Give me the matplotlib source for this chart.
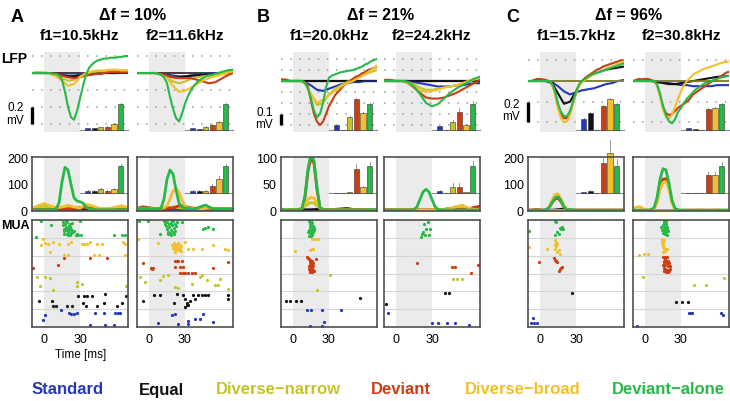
import numpy as np
import matplotlib
matplotlib.use('Agg')
import matplotlib.pyplot as plt

plt.rcParams['font.family'] = ['Liberation Sans', 'DejaVu Sans']

# ---------------- data ----------------
T5 = np.arange(-10, 70.1, 5)
T25 = np.arange(-10, 70.1, 2.5)

conditions = ['Standard', 'Equal', 'Diverse\u2212narrow', 'Deviant', 'Diverse\u2212broad', 'Deviant\u2212alone']
colors = ['#2438b8', '#111111', '#c4c42a', '#cc3d12', '#f2c02c', '#28b848']

titles = ['\u0394f = 10%', '\u0394f = 21%', '\u0394f = 96%']
freq_labels = ['f1=10.5kHz', 'f2=11.6kHz', 'f1=20.0kHz', 'f2=24.2kHz', 'f1=15.7kHz', 'f2=30.8kHz']
panel_letters = ['A', 'B', 'C']

# LFP traces (mV), order: std, eq, dn, dev, db, da
lfp_A1 = [
    [0, 0, 0, 0, -0.01, -0.02, -0.03, -0.03, -0.02, -0.02, -0.01, -0.01, 0, 0, 0, 0, 0],
    [0, 0, 0, 0, -0.01, -0.03, -0.04, -0.04, -0.03, -0.02, -0.01, -0.01, 0, 0, 0, 0.01, 0.01],
    [0, 0.01, 0, -0.01, -0.03, -0.06, -0.09, -0.08, -0.04, -0.01, 0.01, 0.02, 0.02, 0.02, 0.03, 0.03, 0.03],
    [0, 0, 0, 0, -0.01, -0.03, -0.05, -0.06, -0.05, -0.03, -0.02, -0.01, 0, 0.01, 0.01, 0.01, 0.01],
    [0, 0.01, 0.01, -0.01, -0.04, -0.09, -0.15, -0.13, -0.05, 0.0, 0.02, 0.03, 0.03, 0.04, 0.04, 0.03, 0.03],
    [0, 0, 0, 0, 0, 0, 0, -0.01, -0.01, -0.03, -0.08, -0.22, -0.40, -0.52, -0.55, -0.45, -0.30, -0.15, -0.02,
     0.06, 0.10, 0.13, 0.15, 0.16, 0.17, 0.17, 0.18, 0.18, 0.18, 0.19, 0.19, 0.2, 0.2],
]
lfp_A2 = [
    [0, 0, 0, 0, -0.01, -0.02, -0.03, -0.04, -0.04, -0.03, -0.02, -0.01, -0.01, 0, 0, 0, 0.01],
    [0, 0, 0, 0, -0.01, -0.03, -0.05, -0.05, -0.04, -0.03, -0.03, -0.02, -0.02, -0.01, -0.01, 0, 0.01],
    [0, 0, 0, 0, -0.02, -0.05, -0.10, -0.12, -0.10, -0.07, -0.05, -0.04, -0.03, -0.02, 0, 0.01, 0.02],
    [0, 0, 0, 0, -0.01, -0.03, -0.05, -0.06, -0.06, -0.06, -0.08, -0.10, -0.12, -0.11, -0.07, -0.03, 0],
    [0, 0, 0, 0, -0.02, -0.06, -0.15, -0.22, -0.21, -0.17, -0.13, -0.09, -0.06, -0.04, -0.02, 0, 0.02],
    [0, 0, 0, 0, 0, 0, 0, -0.01, -0.02, -0.05, -0.12, -0.28, -0.42, -0.53, -0.57, -0.48, -0.36, -0.27, -0.2,
     -0.15, -0.11, -0.08, -0.06, -0.04, -0.03, -0.02, -0.01, 0, 0.01, 0.02, 0.03, 0.035, 0.04],
]
lfp_B1 = [
    [0, 0, 0, 0, -0.01, -0.04, -0.08, -0.09, -0.07, -0.05, -0.03, -0.02, -0.01, -0.01, 0, 0, 0],
    [0] * 17,
    [0, 0, 0, 0, -0.02, -0.12, -0.22, -0.2, -0.12, -0.07, -0.04, -0.01, 0.02, 0.04, 0.06, 0.08, 0.1],
    [0.015, 0.015, 0.01, 0, 0, 0, 0, 0, -0.01, -0.05, -0.18, -0.3, -0.37, -0.4, -0.37, -0.3, -0.23, -0.18,
     -0.13, -0.1, -0.07, -0.04, -0.02, 0.0, 0.02, 0.04, 0.05, 0.07, 0.08, 0.1, 0.11, 0.12, 0.13],
    [0, 0, 0, 0, -0.02, -0.12, -0.2, -0.17, -0.13, -0.09, -0.05, -0.02, 0.0, 0.03, 0.06, 0.1, 0.14],
    [0, 0, 0, 0, 0, 0, 0, 0, -0.02, -0.07, -0.16, -0.27, -0.33, -0.3, -0.2, -0.06, 0.03, 0.05, 0.06, 0.07,
     0.08, 0.085, 0.09, 0.095, 0.1, 0.11, 0.12, 0.13, 0.15, 0.16, 0.18, 0.19, 0.2],
]
lfp_B2 = [
    [0, 0, 0, 0, 0, -0.01, -0.02, -0.03, -0.04, -0.05, -0.05, -0.05, -0.04, -0.04, -0.03, -0.02, -0.02],
    [0] * 17,
    [0, 0, 0, 0, -0.01, -0.03, -0.06, -0.08, -0.08, -0.07, -0.06, -0.05, -0.04, -0.03, -0.01, 0.01, 0.03],
    [0.01, 0.01, 0, 0, -0.02, -0.06, -0.11, -0.15, -0.16, -0.16, -0.15, -0.13, -0.11, -0.08, -0.05, -0.02, 0.01],
    [0, 0, 0, 0, -0.02, -0.05, -0.08, -0.1, -0.09, -0.08, -0.06, -0.05, -0.04, -0.02, 0, 0.02, 0.03],
    [0, 0, 0, 0, -0.01, -0.05, -0.12, -0.2, -0.23, -0.21, -0.16, -0.11, -0.07, -0.04, -0.01, 0.02, 0.04],
]
lfp_C1 = [
    [0, 0, 0, 0, -0.01, -0.05, -0.1, -0.13, -0.11, -0.09, -0.08, -0.07, -0.05, -0.03, -0.02, 0, 0.01],
    [0, 0, 0, 0, -0.02, -0.12, -0.22, -0.2, -0.1, 0, 0.04, 0.07, 0.09, 0.11, 0.12, 0.13, 0.14],
    [0] * 17,
    [0, 0, 0.01, 0.02, 0.02, 0.015, 0.01, 0, -0.03, -0.11, -0.24, -0.32, -0.36, -0.36, -0.31, -0.21, -0.12,
     -0.04, 0.0, 0.03, 0.05, 0.07, 0.09, 0.11, 0.12, 0.14, 0.15, 0.16, 0.17, 0.18, 0.19, 0.2, 0.2],
    [0, 0, 0, 0, 0, 0, 0, 0, -0.03, -0.12, -0.27, -0.36, -0.4, -0.39, -0.33, -0.22, -0.12, -0.05, -0.01,
     0.01, 0.03, 0.05, 0.07, 0.08, 0.09, 0.1, 0.12, 0.13, 0.14, 0.15, 0.17, 0.18, 0.19],
    [0, 0, 0, 0, 0, 0, 0, 0, -0.03, -0.1, -0.22, -0.3, -0.34, -0.34, -0.29, -0.2, -0.1, -0.03, 0.0,
     0.02, 0.04, 0.06, 0.07, 0.08, 0.09, 0.1, 0.11, 0.12, 0.13, 0.14, 0.15, 0.16, 0.17],
]
lfp_C2 = [
    [0, 0, 0, 0, 0, -0.01, -0.02, -0.03, -0.04, -0.04, -0.05, -0.05, -0.05, -0.05, -0.04, -0.04, -0.04],
    [0, 0, 0, 0, -0.01, -0.02, -0.03, -0.03, -0.02, -0.01, 0, 0.01, 0.02, 0.03, 0.04, 0.045, 0.05],
    [0] * 17,
    [0, 0.01, 0.02, 0.015, 0.02, 0.02, 0.01, 0, -0.04, -0.14, -0.25, -0.31, -0.33, -0.32, -0.29, -0.26, -0.24,
     -0.22, -0.2, -0.17, -0.13, -0.11, -0.09, -0.07, -0.05, -0.03, -0.01, 0.01, 0.02, 0.04, 0.06, 0.08, 0.09],
    [0, 0, 0, 0, 0, 0, 0, 0, -0.04, -0.15, -0.28, -0.35, -0.36, -0.33, -0.25, -0.17, -0.1, -0.04, 0.0,
     0.03, 0.06, 0.08, 0.09, 0.11, 0.12, 0.13, 0.14, 0.15, 0.16, 0.17, 0.18, 0.185, 0.19],
    [0, 0, 0, 0, 0, 0, 0, 0, -0.03, -0.12, -0.24, -0.33, -0.39, -0.41, -0.37, -0.3, -0.26, -0.21, -0.17,
     -0.14, -0.11, -0.08, -0.06, -0.04, -0.02, -0.01, 0, 0.01, 0.02, 0.03, 0.04, 0.045, 0.05],
]

# MUA PSTH (spikes/s)
mua_A1 = [
    [3, 3, 3, 3, 3, 3, 4, 4, 3, 3, 3, 3, 3, 3, 3, 3, 3],
    [5, 5, 5, 5, 5, 5, 6, 7, 8, 10, 8, 6, 5, 5, 5, 5, 5],
    [12, 15, 18, 12, 8, 10, 15, 12, 10, 15, 12, 10, 8, 8, 10, 12, 10],
    [6, 6, 6, 6, 6, 7, 8, 10, 14, 12, 9, 7, 6, 6, 6, 6, 6],
    [10, 20, 28, 20, 12, 15, 22, 15, 12, 25, 20, 12, 8, 10, 15, 20, 12],
    [5, 5, 5, 5, 5, 5, 5, 5, 8, 30, 110, 165, 155, 100, 50, 38, 35, 30, 15, 8, 5, 5, 5, 5, 5, 5, 5, 5, 5, 5, 5, 5, 5],
]
mua_A2 = [
    [3, 3, 3, 3, 3, 3, 4, 6, 4, 3, 3, 3, 3, 3, 3, 3, 3],
    [8, 8, 8, 8, 8, 10, 14, 12, 10, 8, 8, 8, 8, 8, 8, 8, 8],
    [10, 10, 12, 10, 10, 12, 15, 12, 10, 10, 12, 10, 10, 8, 8, 10, 10],
    [10, 16, 12, 8, 8, 10, 12, 20, 18, 12, 8, 8, 8, 8, 8, 8, 8],
    [8, 8, 8, 8, 8, 8, 8, 8, 10, 12, 20, 45, 75, 85, 70, 40, 20, 12, 10, 8, 8, 8, 8, 10, 12, 10, 8, 8, 8, 8, 8, 8, 8],
    [8, 8, 8, 8, 8, 8, 8, 8, 10, 45, 120, 155, 140, 80, 30, 15, 12, 10, 8, 8, 10, 15, 20, 22, 15, 10, 8, 8, 8, 8, 8, 8, 8],
]
mua_B1 = [
    [2, 2, 2, 2, 2, 2, 2, 2, 2, 3, 4, 5, 3, 2, 2, 2, 2],
    [2, 2, 2, 2, 2, 2, 3, 3, 2, 2, 2, 2, 2, 2, 2, 2, 2],
    [2, 2, 2, 2, 2, 2, 3, 5, 9, 13, 16, 15, 10, 5, 3, 2, 2] + [2] * 16,
    [2, 2, 2, 2, 2, 2, 3, 4, 25, 75, 100, 90, 40, 6, 3, 2, 2] + [2] * 16,
    [2, 2, 3, 2, 2, 2, 3, 6, 12, 22, 26, 24, 15, 6, 3, 2, 2] + [2] * 16,
    [2, 2, 2, 2, 2, 2, 3, 4, 30, 80, 108, 95, 45, 6, 3, 2, 2] + [2] * 16,
]
mua_B2 = [
    [2, 2, 2, 2, 2, 2, 2, 2, 2, 2, 3, 5, 4, 3, 2, 2, 2],
    [2] * 17,
    [2, 2, 2, 2, 2, 2, 2, 2, 2, 2, 3, 5, 8, 6, 3, 2, 2],
    [2, 2, 2, 2, 2, 2, 2, 2, 2, 2, 2, 2, 2, 3, 4, 7, 9],
    [2, 2, 2, 2, 2, 2, 2, 2, 2, 2, 3, 4, 8, 11, 6, 3, 2],
    [2, 2, 2, 2, 2, 2, 2, 2, 2, 2, 3, 8, 22, 36, 41, 36, 22, 8, 3, 2, 2] + [2] * 12,
]
mua_C1 = [
    [3] * 17,
    [3, 3, 3, 3, 3, 5, 8, 4, 3, 3, 3, 3, 3, 3, 3, 3, 3],
    [3] * 17,
    [3, 3, 5, 6, 4, 3, 5, 12, 30, 45, 48, 35, 15, 5, 3, 3, 3] + [3] * 16,
    [3, 3, 3, 3, 3, 3, 5, 15, 40, 62, 65, 45, 18, 5, 3, 3, 3] + [3] * 16,
    [3, 3, 3, 3, 3, 3, 5, 12, 32, 50, 54, 40, 16, 5, 3, 3, 3] + [3] * 16,
]
mua_C2 = [
    [2] * 17,
    [2] * 17,
    [3] * 17,
    [3, 3, 3, 3, 3, 3, 3, 8, 35, 85, 120, 122, 90, 35, 8, 3, 3] + [3] * 16,
    [8, 14, 16, 12, 5, 3, 3, 6, 30, 80, 108, 110, 80, 30, 6, 3, 3, 3, 3, 3, 3, 3, 5, 4, 3, 3, 3, 3, 5, 4, 3, 3, 3],
    [3, 3, 3, 3, 3, 3, 5, 12, 50, 120, 160, 155, 105, 40, 10, 4, 3] + [3] * 16,
]

# inset bar values (relative amplitude) and errors
lfp_bars = [
    [0.06, 0.07, 0.09, 0.11, 0.20, 0.86],
    [0.06, 0.03, 0.11, 0.17, 0.28, 0.86],
    [0.16, 0.0, 0.44, 1.02, 0.56, 0.86],
    [0.13, 0.0, 0.28, 0.61, 0.16, 0.86],
    [0.37, 0.56, 0.0, 0.80, 1.02, 0.86],
    [0.06, 0.03, 0.0, 0.69, 0.72, 0.86],
]
lfp_errs = [
    [0.01, 0.01, 0.01, 0.02, 0.03, 0.04],
    [0.01, 0.01, 0.01, 0.02, 0.03, 0.04],
    [0.02, 0.0, 0.04, 0.06, 0.04, 0.05],
    [0.02, 0.0, 0.05, 0.12, 0.03, 0.1],
    [0.03, 0.04, 0.0, 0.05, 0.05, 0.05],
    [0.01, 0.01, 0.0, 0.05, 0.05, 0.05],
]
mua_bars = [
    [0.06, 0.06, 0.12, 0.06, 0.12, 0.75],
    [0.06, 0.06, 0.06, 0.19, 0.40, 0.75],
    [0.01, 0.01, 0.02, 0.66, 0.17, 0.74],
    [0.06, 0.01, 0.17, 0.17, 0.02, 0.74],
    [0.03, 0.06, 0.0, 0.83, 1.11, 0.74],
    [0.01, 0.01, 0.0, 0.51, 0.51, 0.74],
]
mua_errs = [
    [0.01, 0.01, 0.02, 0.01, 0.03, 0.05],
    [0.01, 0.01, 0.01, 0.06, 0.08, 0.05],
    [0.0, 0.0, 0.0, 0.15, 0.03, 0.12],
    [0.01, 0.0, 0.1, 0.1, 0.0, 0.15],
    [0.01, 0.01, 0.0, 0.15, 0.35, 0.2],
    [0.0, 0.0, 0.0, 0.08, 0.08, 0.12],
]

# raster spikes: (time ms, trial row); rows 0-1 std ... 5-6 deviant-alone
ras_A1 = [
    [(0.5, 0.69), (-0.8, 0.37), (14.2, 0.93), (21, 0.80), (22.4, 0.75), (25.1, 0.75), (27.8, 0.80), (38.2, 0.13),
     (42.8, 0.80), (49.6, 0.80), (51, 0.13), (58.4, 0.13), (59.2, 0.80), (62, 0.80), (63.3, 0.80)],
    [(-4.4, 1.44), (6.5, 1.44), (7.4, 1.18), (10.1, 1.18), (19.1, 1.18), (23.2, 1.18), (28.6, 1.72), (33.3, 1.72),
     (36, 1.72), (40.1, 1.72), (51, 1.87), (32.7, 1.36), (34.6, 1.18), (44.2, 1.18), (50.2, 1.36), (60.6, 1.18),
     (64.6, 1.36), (68.2, 1.72)],
    [(-5.5, 2.80), (-3.5, 2.28), (0.5, 2.80), (4.6, 2.75), (7.4, 2.06), (27.3, 2.52), (27.8, 2.30), (31.9, 2.43),
     (68.7, 2.28)],
    [(-9, 3.31), (12, 3.50), (16.4, 3.87), (38.7, 3.87), (52.4, 3.87)],
    [(-0.8, 4.92), (0.5, 4.73), (3.3, 4.67), (7.4, 4.77), (12.8, 4.67), (19.6, 4.67), (22.4, 4.77), (31.9, 4.67),
     (33.3, 4.67), (36, 4.67), (38.7, 4.77), (44.2, 4.67), (48.3, 4.67), (66, 4.77), (67.4, 4.67), (4.6, 4.21),
     (16.9, 4.02), (19.6, 4.02), (41.5, 4.02), (45.5, 4.02), (67.4, 4.02), (-2.2, 4.58)],
    [(-7.0, 5.07), (-2.7, 5.93), (5.5, 5.74), (15.5, 5.89), (16.0, 5.70), (16.4, 5.51), (17.0, 5.36), (17.5, 5.80),
     (18.0, 5.61), (18.3, 5.42), (18.8, 5.23), (19.1, 5.89), (19.6, 5.55), (20.2, 5.33), (20.5, 5.74), (21.0, 5.45),
     (21.5, 5.18), (22.0, 5.62), (22.4, 5.29), (22.8, 5.50), (23.2, 5.85), (23.7, 5.40), (16.8, 5.20), (18.5, 5.95),
     (20.0, 5.15), (21.8, 5.80), (24.0, 5.30), (25.1, 5.36), (26.5, 5.18), (27.3, 5.23), (28.6, 5.14), (30.5, 5.18),
     (30.0, 5.93), (58.4, 5.14), (64.6, 5.14), (67.4, 5.14)],
]
ras_A2 = [
    [(7.8, 0.24), (18.9, 0.65), (21.7, 0.75), (24.4, 0.19), (32.2, 0.32), (32.8, 0.19), (38.3, 0.47), (42.5, 0.47),
     (45.3, 0.75), (53.6, 0.28)],
    [(-4.7, 1.44), (4.4, 1.78), (9.2, 1.78), (21.1, 1.33), (23.1, 1.87), (28.6, 1.78), (30, 1.59), (31.4, 1.25),
     (34.2, 1.44), (36.9, 1.78), (38.3, 1.59), (41.1, 1.78), (43.9, 1.78), (46.7, 1.78), (49.4, 1.78), (65.6, 1.78),
     (66.1, 1.59), (30, 1.12), (32.8, 1.21), (31.4, 1.36)],
    [(-7.5, 2.80), (-3.3, 2.52), (9.2, 2.62), (11.9, 2.86), (16.1, 2.90), (21.7, 2.24), (24.4, 2.19), (35.6, 2.43),
     (42.5, 2.80), (43.9, 2.90), (48.1, 2.62), (55, 2.34), (57.8, 2.34), (59.2, 2.71), (66.1, 2.15)],
    [(-4.7, 3.61), (2.2, 3.27), (3.6, 3.31), (1.7, 3.31), (21.7, 3.36), (24.4, 3.68), (27.2, 3.68), (23.1, 3.68),
     (21.7, 3.68), (25.8, 3.05), (28.6, 3.05), (30, 3.05), (32.8, 3.02), (35.6, 3.05), (38.3, 3.05), (25.8, 3.36),
     (28.6, 3.36), (53.6, 3.31), (66.1, 3.64)],
    [(19.2, 4.60), (20.0, 4.45), (20.6, 4.70), (21.2, 4.35), (21.8, 4.55), (22.3, 4.62), (22.9, 4.40), (23.5, 4.50),
     (24.0, 4.30), (24.6, 4.66), (25.2, 4.45), (25.8, 4.38), (26.4, 4.55), (27.0, 4.25), (22.0, 4.22), (23.8, 4.70),
     (-8.9, 4.92), (7.8, 4.73), (30, 4.77), (32.8, 4.39), (36.9, 4.39), (43.9, 4.39), (53.6, 4.58), (63.3, 4.39),
     (66.1, 4.30)],
    [(12.5, 5.93), (13.3, 5.80), (14.0, 5.65), (14.7, 5.50), (15.3, 5.90), (15.8, 5.35), (16.4, 5.75), (17.0, 5.60),
     (17.5, 5.25), (18.0, 5.85), (18.6, 5.45), (19.2, 5.70), (19.7, 5.30), (20.3, 5.95), (20.8, 5.55), (21.4, 5.80),
     (22.0, 5.40), (22.6, 5.65), (23.1, 5.88), (16.0, 5.20), (18.3, 5.15), (14.2, 5.95), (19.0, 5.92), (21.0, 5.22),
     (-8.3, 5.93), (-1.1, 5.93), (9.2, 5.23), (27.2, 5.89), (45.3, 5.51), (46.7, 5.55), (49.4, 5.61), (53.6, 5.51)],
]
ras_B1 = [
    [(12, 0.93), (14.7, 0.93), (24.3, 0.93), (40.1, 0.93), (14.2, 0.04), (24.5, 0.04), (25.6, 0.28)],
    [(-5.5, 1.44), (-2.2, 1.44), (2.7, 1.44), (6.5, 1.44), (55.9, 1.63)],
    [(30.5, 2.90), (19.6, 2.05)],
    [(11.5, 3.93), (19.1, 3.83), (13.0, 3.80), (14.5, 3.75), (15.5, 3.68), (13.8, 3.62), (15.0, 3.55), (16.5, 3.58),
     (14.2, 3.50), (15.8, 3.45), (13.5, 3.42), (17.0, 3.40), (14.8, 3.35), (16.0, 3.30), (13.2, 3.25), (15.2, 3.20),
     (16.8, 3.22), (14.0, 3.15), (15.6, 3.10), (13.8, 3.08), (17.5, 3.12), (12.8, 3.88)],
    [(1.9, 4.24), (14.2, 4.30), (16.9, 4.36), (18.3, 4.92), (21, 4.92), (15.5, 4.92), (15.5, 4.39)],
    [(13.0, 5.93), (14.0, 5.88), (15.2, 5.95), (16.0, 5.83), (13.8, 5.75), (15.0, 5.70), (16.5, 5.66), (14.3, 5.58),
     (15.8, 5.52), (17.2, 5.55), (13.5, 5.45), (14.8, 5.40), (16.8, 5.35), (12.8, 5.30), (14.2, 5.25), (15.5, 5.18),
     (13.0, 5.12), (14.6, 5.08), (16.2, 5.22), (17.8, 5.45)],
]
ras_B2 = [
    [(-6.7, 0.79), (30, 0.24), (35, 0.24), (42.5, 0.24), (48.9, 0.24), (60.6, 0.13)],
    [(41.1, 1.93), (44.4, 1.93), (-8.1, 1.31)],
    [(47.5, 2.67), (50.8, 2.67), (55, 2.67)],
    [(17.5, 3.61), (46.7, 3.36), (49.4, 3.36), (62.8, 3.05), (68.3, 3.46)],
    [],
    [(23.1, 5.79), (26.7, 5.89), (25, 5.48), (28.6, 5.48), (21.7, 5.23), (23.9, 5.18), (21.1, 5.05), (27.8, 5.18),
     (22.8, 5.33)],
]
ras_C1 = [
    [(-5.5, 0.52), (-7.1, 0.24), (-4.9, 0.24), (-2.7, 0.24)],
    [(26.5, 1.91)],
    [],
    [(-0.8, 3.64), (11.5, 3.87), (12.8, 3.74), (14.2, 3.64), (16.9, 3.27), (15.5, 3.12), (18.3, 3.36), (17.5, 3.30),
     (13.5, 3.70)],
    [(-9, 4.49), (5.5, 4.39), (12.8, 4.86), (14.2, 4.67), (12.8, 4.39), (15.5, 4.30), (16.9, 4.11), (13.6, 4.77),
     (13.4, 4.54), (14.5, 4.20), (12.5, 4.62)],
    [(-9, 5.36), (12.8, 5.93), (16.9, 5.55), (19.1, 5.51), (14.2, 5.33), (15.5, 5.23), (12.8, 5.18), (17.5, 5.48),
     (13.6, 5.89), (18.0, 5.62)],
]
ras_C2 = [
    [(36.9, 0.79), (38.9, 0.79), (37.8, 0.79), (63.3, 0.80), (65, 0.65), (-6.7, 0.06)],
    [(25.8, 1.40), (30.6, 1.40), (35.6, 1.40)],
    [(-1.4, 2.80), (40.6, 2.37), (50.8, 2.37), (65.6, 2.77)],
    [(15.0, 3.92), (16.0, 3.90), (17.0, 3.92), (18.0, 3.90), (16.5, 3.80), (15.5, 3.72), (17.5, 3.70), (19.5, 3.72),
     (15.8, 3.62), (18.5, 3.60), (20.0, 3.58), (15.3, 3.50), (17.0, 3.45), (19.0, 3.42), (20.5, 3.40), (15.5, 3.30),
     (16.8, 3.25), (18.2, 3.20), (19.8, 3.22), (21.0, 3.28), (16.0, 3.12), (17.5, 3.10), (19.0, 3.10), (20.3, 3.15)],
    [(14.5, 4.92), (15.5, 4.88), (14.0, 4.80), (15.0, 4.72), (14.3, 4.65), (15.2, 4.58), (14.6, 4.50), (15.6, 4.45),
     (16.5, 4.40), (17.5, 4.35), (18.5, 4.36), (16.0, 4.28), (17.0, 4.25), (15.0, 4.22), (-4.7, 4.02), (-0.6, 4.11),
     (2.8, 4.11)],
    [(15.5, 5.93), (16.5, 5.90), (17.5, 5.93), (16.0, 5.82), (17.2, 5.78), (15.0, 5.70), (16.3, 5.65), (18.0, 5.62),
     (15.6, 5.55), (17.0, 5.50), (18.5, 5.48), (14.5, 5.42), (16.0, 5.38), (17.6, 5.33), (15.2, 5.25), (16.8, 5.20),
     (18.2, 5.15), (13.5, 5.60), (19.5, 5.40)],
]

lfp_panels = [lfp_A1, lfp_A2, lfp_B1, lfp_B2, lfp_C1, lfp_C2]
mua_panels = [mua_A1, mua_A2, mua_B1, mua_B2, mua_C1, mua_C2]
ras_panels = [ras_A1, ras_A2, ras_B1, ras_B2, ras_C1, ras_C2]

lfp_ylims = [(-0.694, 0.271), (-0.464, 0.282), (-0.493, 0.30)]
lfp_grid = [[0.2, -0.2, -0.4, -0.6], [0.2, 0.1, -0.1, -0.2, -0.3, -0.4], [0.2, -0.2, -0.4]]
scale_bars = [(-0.4, -0.6, '0.2\nmV'), (-0.3, -0.4, '0.1\nmV'), (-0.2, -0.4, '0.2\nmV')]
mua_ylims = [(0, 204), (0, 102), (0, 204)]
mua_ticks = [[0, 100, 200], [0, 50, 100], [0, 100, 200]]

# ---------------- layout ----------------
W, H = 730, 401
fig = plt.figure(figsize=(W / 100, H / 100), dpi=100)


def px_axes(left, top, w, h):
    return fig.add_axes([left / W, 1 - (top + h) / H, w / W, h / H])


col_left = [32, 137, 281, 384, 528, 633]
col_w = 96
shade = '#ebebeb'
frame_c = '#505050'
TX = (-10, 70)


def tgrid(v):
    return T25 if len(v) == 33 else T5


def inset_bars(parent, rect, vals, errs):
    ins = parent.inset_axes(rect)
    ins.patch.set_alpha(0)
    x = np.arange(6)
    bars = ins.bar(x, vals, width=0.78, color=colors, edgecolor='#333333', linewidth=0.4, zorder=3)
    for b, v, e in zip(x, vals, errs):
        if v > 0 and e > 0:
            ins.plot([b, b], [v, v + e], color='#999999', lw=0.7, zorder=2, clip_on=False)
    for bb in bars:
        bb.set_clip_on(False)
    ins.set_xlim(-1.16, 6.11)
    ins.set_ylim(0, 1)
    for s in ['top', 'left', 'right']:
        ins.spines[s].set_visible(False)
    ins.spines['bottom'].set_color('#8a8a8a')
    ins.spines['bottom'].set_linewidth(0.8)
    ins.set_xticks([])
    ins.set_yticks([])
    return ins


for i in range(6):
    g = i // 2
    L = col_left[i]
    # ---- LFP ----
    ax = px_axes(L, 50, col_w, 82)
    ax.set_xlim(*TX)
    ax.set_ylim(*lfp_ylims[g])
    ax.axis('off')
    ax.axvspan(0, 30, ymin=0, ymax=0.975, color=shade, zorder=0, lw=0)
    for yv in lfp_grid[g]:
        ax.axhline(yv, color='#9a9a9a', lw=1.1, ls=(0, (1, 5)), zorder=1)
    ax.axhline(0, color='#111111', lw=1.6 if g == 1 else 1.1, zorder=2)
    for k in range(6):
        v = lfp_panels[i][k]
        flat = all(abs(x) < 1e-9 for x in v)
        ax.plot(tgrid(v), v, color=colors[k], lw=1.5, zorder=3 + k, solid_capstyle='round',
                alpha=0.5 if flat else 1.0)
    inset_bars(ax, [0.5, 0.024, 0.5, 0.366], lfp_bars[i], lfp_errs[i])
    if i % 2 == 0:
        y0, y1, lab = scale_bars[g]
        ax.plot([-10, -10], [y0, y1], color='black', lw=2.4, clip_on=False, solid_capstyle='butt')
        ax.text(-10 - 6.5, (y0 + y1) / 2 - (y1 - y0) * 0.05, lab, ha='right', va='center',
                fontsize=8.5, linespacing=1.05)

    # ---- MUA PSTH ----
    ax2 = px_axes(L, 157, col_w, 54)
    ax2.set_xlim(*TX)
    ax2.set_ylim(*mua_ylims[g])
    ax2.axvspan(0, 30, color=shade, zorder=0, lw=0)
    for k in range(6):
        v = mua_panels[i][k]
        ax2.plot(tgrid(v), v, color=colors[k], lw=2.0, zorder=3 + k)
    for s in ax2.spines.values():
        s.set_color(frame_c)
        s.set_linewidth(1.2)
        s.set_zorder(20)
    ax2.set_xticks([])
    ax2.set_yticks(mua_ticks[g])
    ax2.tick_params(axis='y', length=0, pad=3, labelsize=9)
    if i % 2 == 1:
        ax2.set_yticklabels([])
    inset_bars(ax2, [0.5, 0.333, 0.5, 0.667], mua_bars[i], mua_errs[i])

    # ---- raster ----
    ax3 = px_axes(L, 220, col_w, 107)
    ax3.set_xlim(*TX)
    ax3.set_ylim(0, 6)
    ax3.axvspan(0, 30, color=shade, zorder=0, lw=0)
    for yv in range(1, 6):
        ax3.axhline(yv, color='#d6d6d6', lw=0.8, zorder=1)
    for k in range(6):
        pts = ras_panels[i][k]
        if pts:
            tt, yy = zip(*pts)
            ax3.plot(tt, yy, 'o', color=colors[k], ms=2.3, mew=0, zorder=3)
    for s in ax3.spines.values():
        s.set_color(frame_c)
        s.set_linewidth(1.2)
        s.set_zorder(20)
    ax3.set_yticks([])
    ax3.set_xticks([0, 30])
    ax3.tick_params(axis='x', length=0, pad=5, labelsize=9)

    fig.text((L + col_w / 2) / W, 1 - 36 / H, freq_labels[i], ha='center', va='center',
             fontsize=11, fontweight='bold')

for g in range(3):
    cx = (col_left[2 * g] + col_left[2 * g + 1] + col_w) / 2
    fig.text(cx / W, 1 - 16 / H, titles[g], ha='center', va='center', fontsize=11.5, fontweight='bold')

for lx, letter in zip([17, 263, 513], panel_letters):
    fig.text(lx / W, 1 - 17 / H, letter, ha='center', va='center', fontsize=13, fontweight='bold')

fig.text(1 / W, 1 - 59 / H, 'LFP', ha='left', va='center', fontsize=10, fontweight='bold')
fig.text(1 / W, 1 - 226 / H, 'MUA', ha='left', va='center', fontsize=9, fontweight='bold')
fig.text(81 / W, 1 - 355 / H, 'Time [ms]', ha='center', va='center', fontsize=8.5)

legend_x = [68, 161, 278, 401, 523, 668]
for cx, name, c in zip(legend_x, conditions, colors):
    fig.text(cx / W, 1 - 390 / H, name, ha='center', va='center', fontsize=12, fontweight='bold', color=c)

fig.savefig('out.png', dpi=100)
